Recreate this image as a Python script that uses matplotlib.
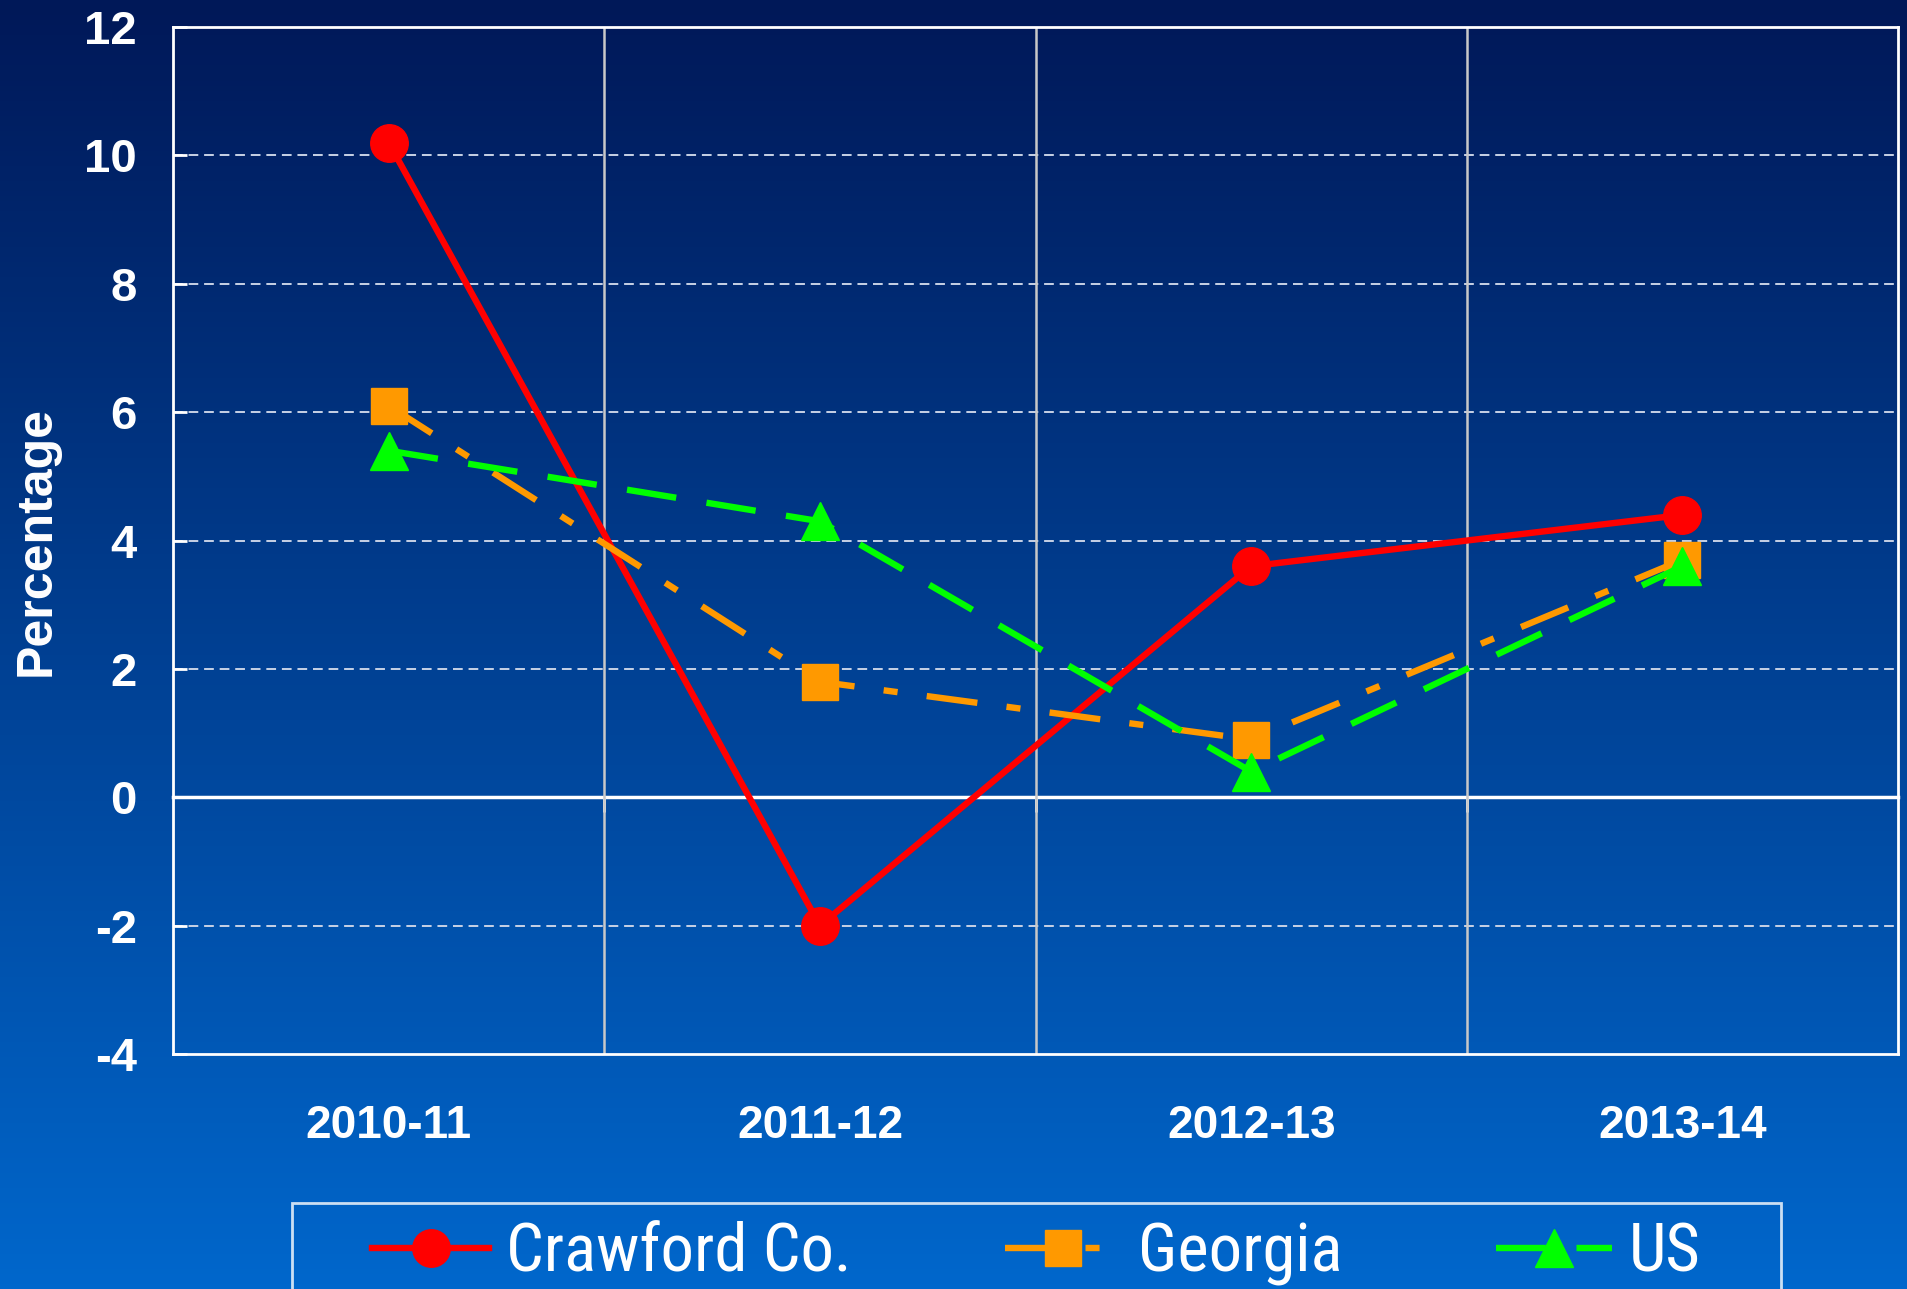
import numpy as np
import matplotlib.pyplot as plt
from matplotlib.path import Path

# data
years = ["2010-11", "2011-12", "2012-13", "2013-14"]
crawford = [10.2, -2.0, 3.6, 4.4]
georgia = [6.1, 1.8, 0.9, 3.7]
us = [5.4, 4.3, 0.4, 3.6]
y_ticks = [-4, -2, 0, 2, 4, 6, 8, 10, 12]

bold_font = ["Liberation Sans", "DejaVu Sans"]
narrow_font = ["Roboto Condensed", "Liberation Sans", "DejaVu Sans"]

fig = plt.figure(figsize=(19.08, 12.89), dpi=100)

# background gradient, dark navy at top to bright blue at bottom
bg = fig.add_axes([0, 0, 1, 1], zorder=-10)
top = np.array([0, 24, 88]) / 255
bottom = np.array([0, 103, 204]) / 255
t = np.linspace(0, 1, 256)[:, None]
grad = (top * (1 - t) + bottom * t)[:, None, :]
bg.imshow(grad, aspect="auto", extent=[0, 1, 0, 1])
bg.axis("off")

ax = fig.add_axes([0.0907, 0.1823, 0.9041, 0.7967])
ax.set_facecolor("none")

x = np.arange(len(years)) + 0.5
lw = 4.6
ax.plot(x, crawford, color="#ff0000", lw=lw, marker="o", ms=27,
        label="Crawford Co.", zorder=5)
ax.plot(x, georgia, color="#ff9900", lw=lw, marker="s", ms=26,
        dashes=(8.0, 4.6, 2.2, 4.6), label="Georgia", zorder=6)
ax.plot(x, us, color="#00ff00", lw=lw, marker="^", ms=28,
        dashes=(7.8, 4.8), label="US", zorder=7)

ax.set_xlim(0, len(years))
ax.set_ylim(-4, 12)

# gridlines
for v in y_ticks[1:-1]:
    if v == 0:
        continue
    ax.axhline(v, color="#c8d2e6", lw=1.4, ls=(0, (5, 3)), zorder=1)
for i in range(1, len(years)):
    ax.axvline(i, color="#c8c8c8", lw=1.8, zorder=1)

for s in ax.spines.values():
    s.set_color("white")
    s.set_linewidth(2)

ax.set_yticks(y_ticks)
ax.set_yticklabels([str(v) for v in y_ticks])
ax.tick_params(axis="y", direction="in", length=10, width=2, color="white",
               labelcolor="white", labelsize=34, pad=26)
ax.set_xticks(x)
ax.set_xticklabels(years)
ax.tick_params(axis="x", length=0, labelcolor="white", labelsize=33, pad=36)
for lab in ax.get_xticklabels() + ax.get_yticklabels():
    lab.set_family(bold_font)
    lab.set_fontweight("bold")

# category axis crossing at zero
zero_ax = ax.secondary_xaxis(0.25)
zero_ax.spines["bottom"].set_color("white")
zero_ax.spines["bottom"].set_linewidth(2.5)
zero_ax.set_xticks(range(1, len(years)))
zero_ax.set_xticklabels([])
zero_ax.tick_params(direction="out", length=11, width=2, color="white")

ax.set_ylabel("Percentage", color="white", fontsize=36, fontweight="bold",
              family=bold_font)
ax.yaxis.set_label_coords(-0.066, 0.5)

leg = ax.legend(loc="upper center", bbox_to_anchor=(0.5433, 1 - 1203 / 1289),
                bbox_transform=fig.transFigure, ncol=3, frameon=True,
                prop={"family": narrow_font, "size": 48},
                handlelength=1.75, handletextpad=0.25, columnspacing=2.3,
                borderpad=0.28, borderaxespad=0, fancybox=False)
for txt in leg.get_texts():
    txt.set_color("white")


def wide_box(x0, y0, width, height, mutation_size):
    px = 0.92 * mutation_size
    return Path([(x0 - px, y0), (x0 + width + px, y0),
                 (x0 + width + px, y0 + height), (x0 - px, y0 + height),
                 (x0 - px, y0)], closed=True)


frame = leg.get_frame()
frame.set_boxstyle(wide_box)
frame.set_facecolor("none")
frame.set_edgecolor("white")
frame.set_linewidth(2)

fig.savefig("out.png", dpi=100)
